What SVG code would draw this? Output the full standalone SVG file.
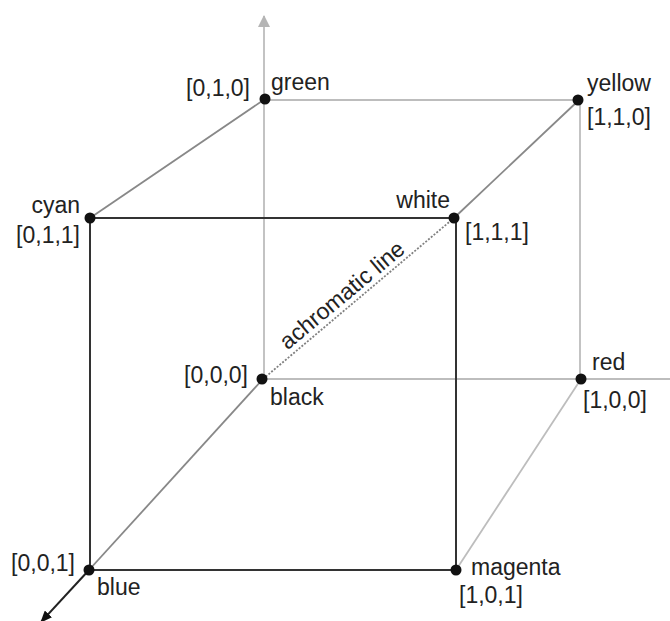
<svg xmlns="http://www.w3.org/2000/svg" width="670" height="621" viewBox="0 0 670 621">
<style>
text{font-family:"Liberation Sans",Arial,sans-serif;font-size:23px;fill:#222}
.dark{stroke:#333;stroke-width:2;fill:none}
.mid{stroke:#888;stroke-width:1.8;fill:none}
.light{stroke:#bdbdbd;stroke-width:1.8;fill:none}
.dot{fill:#111}
</style>
<defs>
<marker id="arrG" viewBox="0 0 12 12" refX="11" refY="6" markerWidth="12" markerHeight="12" markerUnits="userSpaceOnUse" orient="auto"><path d="M0,0 L12,6 L0,12 Z" fill="#b5b5b5"/></marker>
<marker id="arrK" viewBox="0 0 12 10" refX="11" refY="5" markerWidth="12" markerHeight="10" markerUnits="userSpaceOnUse" orient="auto"><path d="M0,0 L12,5 L0,10 Z" fill="#111"/></marker>
</defs>
<rect width="670" height="621" fill="#fff"/>
<g id="connectors">
<line class="light" x1="264" y1="379" x2="264" y2="16" marker-end="url(#arrG)"/>
<line class="light" x1="263" y1="379" x2="670" y2="379"/>
<line class="light" x1="265" y1="100" x2="579" y2="100"/>
<line class="light" x1="580" y1="100" x2="580" y2="379"/>
<line class="light" x1="581" y1="379" x2="456" y2="570"/>
<line class="mid" x1="265" y1="99" x2="90" y2="218"/>
<line class="mid" x1="454" y1="218" x2="579" y2="100"/>
<line class="mid" x1="263" y1="379" x2="89" y2="570"/>
<line x1="263" y1="379" x2="454" y2="218" stroke="#808080" stroke-width="1.8" stroke-dasharray="2,1.6"/>
<line class="dark" x1="90" y1="218" x2="454" y2="218"/>
<line class="dark" x1="90" y1="218" x2="90" y2="570"/>
<line class="dark" x1="456" y1="218" x2="456" y2="570"/>
<line class="dark" x1="89" y1="570" x2="456" y2="570"/>
<line stroke="#222" stroke-width="2" x1="89" y1="570" x2="41" y2="622" marker-end="url(#arrK)"/>
<text transform="translate(347,301) rotate(-39.8)" text-anchor="middle">achromatic line</text>
</g>
<g id="green"><circle class="dot" cx="265" cy="99" r="5.5"/><text x="250" y="96" text-anchor="end">[0,1,0]</text><text x="271" y="90">green</text></g>
<g id="yellow"><circle class="dot" cx="578" cy="100" r="5.5"/><text x="587" y="91">yellow</text><text x="587" y="125">[1,1,0]</text></g>
<g id="cyan"><circle class="dot" cx="90" cy="218" r="5.5"/><text x="80" y="213" text-anchor="end">cyan</text><text x="80" y="243" text-anchor="end">[0,1,1]</text></g>
<g id="white"><circle class="dot" cx="454" cy="218" r="5.5"/><text x="450" y="208" text-anchor="end">white</text><text x="465" y="240">[1,1,1]</text></g>
<g id="black"><circle class="dot" cx="262" cy="379" r="5.5"/><text x="248" y="383" text-anchor="end">[0,0,0]</text><text x="270" y="405">black</text></g>
<g id="red"><circle class="dot" cx="581" cy="379" r="5.5"/><text x="592" y="370">red</text><text x="583" y="408">[1,0,0]</text></g>
<g id="blue"><circle class="dot" cx="89" cy="570" r="5.5"/><text x="75" y="571" text-anchor="end">[0,0,1]</text><text x="97" y="595">blue</text></g>
<g id="magenta"><circle class="dot" cx="456" cy="570" r="5.5"/><text x="471" y="575">magenta</text><text x="459" y="603">[1,0,1]</text></g>
</svg>
